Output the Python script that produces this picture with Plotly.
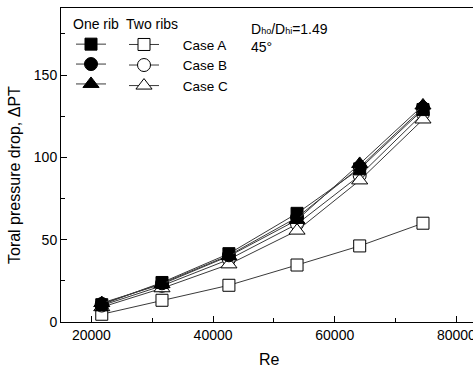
import plotly.graph_objects as go

re_vals = [21700, 31600, 42600, 53800, 64100, 74500]
one_rib_A = [10.5, 24.0, 41.5, 66.0, 93.0, 129.0]
one_rib_B = [11.0, 23.5, 40.5, 63.5, 94.0, 130.0]
one_rib_C = [11.5, 23.0, 40.0, 62.0, 96.0, 131.5]
two_ribs_A = [4.7, 13.2, 22.3, 34.6, 46.2, 60.0]
two_ribs_B = [10.0, 22.0, 38.0, 59.5, 89.0, 126.5]
two_ribs_C = [9.0, 20.5, 35.0, 55.5, 86.0, 123.0]
case_names = ["Case A", "Case B", "Case C"]

FONT = "Liberation Sans, Arial, sans-serif"
LINE = dict(color="#3a3a3a", width=1)

fig = go.Figure()

series = [
    (two_ribs_A, "square", "white", 12, "legend2", case_names[0]),
    (two_ribs_B, "circle", "white", 13, "legend2", case_names[1]),
    (two_ribs_C, "triangle-up", "white", 14, "legend2", case_names[2]),
    (one_rib_A, "square", "black", 12, "legend", case_names[0]),
    (one_rib_B, "circle", "black", 13, "legend", case_names[1]),
    (one_rib_C, "triangle-up", "black", 14, "legend", case_names[2]),
]
pad = "\u00a0" * 5
for ys, sym, fill, size, lg, nm in series:
    fig.add_trace(go.Scatter(
        x=re_vals, y=ys, mode="lines+markers",
        name=(pad + nm) if lg == "legend2" else "\u00a0",
        legend=lg,
        line=LINE,
        marker=dict(symbol=sym, size=size, color=fill,
                    line=dict(color="black", width=1)),
    ))

W, H = 473, 369
L, R, T, B = 61, 0, 8, 47
pw, ph = W - L - R, H - T - B

def px(x):
    return (x - L) / pw

def py(y):
    return (H - B - y) / ph

fig.update_layout(
    width=W, height=H,
    margin=dict(l=L, r=R, t=T, b=B, autoexpand=False),
    paper_bgcolor="white", plot_bgcolor="white",
    font=dict(family=FONT, size=14, color="black"),
    xaxis=dict(range=[15000, 82724], showline=True, linecolor="black",
               linewidth=1, mirror=True, ticks="inside", ticklen=6,
               tickcolor="black", tickvals=[20000, 40000, 60000, 80000],
               ticktext=["20000", "40000", "60000", "80000"],
               minor=dict(tickvals=[30000, 50000, 70000], ticks="inside",
                          ticklen=4, tickcolor="black"),
               showgrid=False, zeroline=False, automargin=False,
               ticklabeloverflow="allow",
               tickfont=dict(size=14)),
    yaxis=dict(range=[0, 190.7], showline=True, linecolor="black",
               linewidth=1, mirror=False, ticks="inside", ticklen=6,
               tickcolor="black", tickvals=[0, 50, 100, 150],
               ticktext=["0", "50", "100", "150"],
               minor=dict(tickvals=[25, 75, 125, 175], ticks="inside",
                          ticklen=4, tickcolor="black"),
               showgrid=False, zeroline=False, automargin=False,
               tickfont=dict(size=14)),
    legend=dict(x=px(71), y=py(11), xanchor="left", yanchor="top",
                title=dict(text="One rib", font=dict(size=14)),
                bgcolor="rgba(0,0,0,0)", borderwidth=0,
                font=dict(size=13), tracegroupgap=0, itemwidth=30),
    legend2=dict(x=px(124), y=py(11), xanchor="left", yanchor="top",
                 title=dict(text="Two ribs", font=dict(size=14)),
                 bgcolor="rgba(0,0,0,0)", borderwidth=0,
                 font=dict(size=13.5), tracegroupgap=0, itemwidth=30),
    annotations=[
        dict(text='D<span style="font-size:9px">ho</span>/D'
                  '<span style="font-size:9px">hi</span>=1.49',
             xref="paper", yref="paper", x=px(249), y=py(29),
             xanchor="left", yanchor="middle", showarrow=False,
             font=dict(size=14)),
        dict(text="45°", xref="paper", yref="paper", x=px(249), y=py(47),
             xanchor="left", yanchor="middle", showarrow=False,
             font=dict(size=14)),
        dict(text="Toral pressure drop, ΔPT", xref="paper", yref="paper",
             x=px(14), y=py(175), xanchor="center", yanchor="middle",
             textangle=-90, showarrow=False, font=dict(size=16)),
        dict(text="Re", xref="paper", yref="paper", x=px(269), y=py(359),
             xanchor="center", yanchor="middle", showarrow=False,
             font=dict(size=16)),
    ],
)

fig.write_html(
    "out.html",
    config={"displayModeBar": False},
    post_script="document.body.style.margin='0';"
                "document.body.style.overflow='hidden';",
)
